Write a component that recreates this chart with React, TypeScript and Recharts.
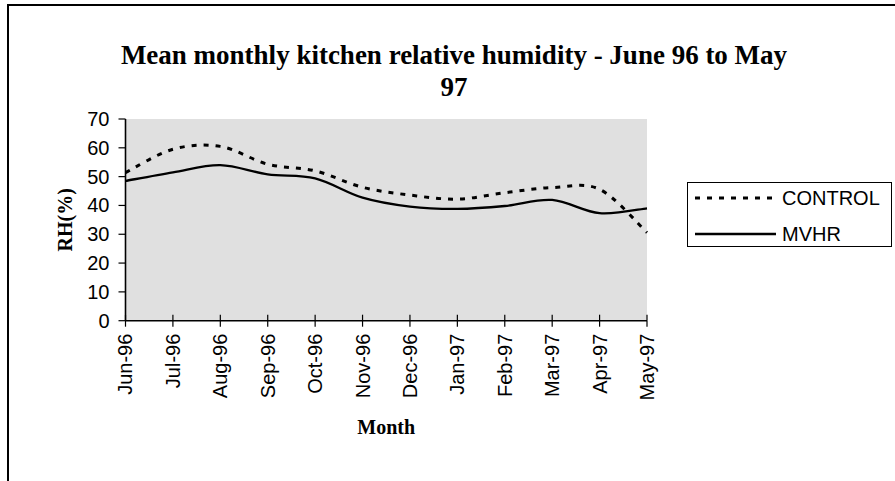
import React from 'react';
import { LineChart, Line, XAxis, YAxis, CartesianGrid } from 'recharts';

const months = ['Jun-96', 'Jul-96', 'Aug-96', 'Sep-96', 'Oct-96', 'Nov-96', 'Dec-96', 'Jan-97', 'Feb-97', 'Mar-97', 'Apr-97', 'May-97'];
const controlRH = [51.4, 59.5, 60.5, 54.3, 52.0, 46.3, 43.6, 42.2, 44.4, 46.2, 45.6, 30.6];
const mvhrRH = [48.5, 51.5, 54.0, 50.8, 49.4, 42.7, 39.6, 38.8, 39.8, 41.9, 37.3, 39.0];
const yTicks = [0, 10, 20, 30, 40, 50, 60, 70];
const titleLines = ['Mean monthly kitchen relative humidity - June 96 to May', '97'];
const xTitle = 'Month';
const yTitle = 'RH(%)';

const seriesDefs = [
  { key: 'CONTROL', values: controlRH, dash: '5 7', width: 3 },
  { key: 'MVHR', values: mvhrRH, dash: undefined as string | undefined, width: 2.3 },
];

const data = months.map((m, i) => {
  const row: any = { month: m };
  seriesDefs.forEach((s) => { row[s.key] = s.values[i]; });
  return row;
});

// Excel-style smoothing (Catmull-Rom as cubic Bezier)
function excelSmooth(context: any) {
  let pts: number[][] = [];
  let area = NaN;
  return {
    areaStart() { area = 0; },
    areaEnd() { area = NaN; },
    lineStart() { pts = []; },
    point(x: number, y: number) { pts.push([+x, +y]); },
    lineEnd() {
      const n = pts.length;
      if (!n) return;
      if (area === 0) context.lineTo(pts[0][0], pts[0][1]);
      else context.moveTo(pts[0][0], pts[0][1]);
      for (let i = 0; i < n - 1; i++) {
        const p0 = pts[Math.max(i - 1, 0)];
        const p1 = pts[i];
        const p2 = pts[i + 1];
        const p3 = pts[Math.min(i + 2, n - 1)];
        context.bezierCurveTo(
          p1[0] + (p2[0] - p0[0]) / 6,
          p1[1] + (p2[1] - p0[1]) / 6,
          p2[0] - (p3[0] - p1[0]) / 6,
          p2[1] - (p3[1] - p1[1]) / 6,
          p2[0],
          p2[1]
        );
      }
    },
  };
}

const SANS = '"Liberation Sans", Arial, sans-serif';
const SERIF = '"Liberation Serif", "Times New Roman", serif';

const X_TICK = 6;
const X_MARGIN = 7;
const Y_TICK = 7;
const Y_MARGIN = 9;

const XTick = (props: any) => {
  const { x, y, payload } = props;
  const axisY = y - X_TICK - X_MARGIN;
  return (
    <g>
      <line x1={x} x2={x} y1={axisY - 6} y2={axisY} stroke="#000" strokeWidth={1.2} />
      <text
        x={x}
        y={y}
        transform={`rotate(-90, ${x}, ${y})`}
        textAnchor="end"
        dominantBaseline="central"
        fontFamily={SANS}
        fontSize={20}
        fill="#000"
      >
        {payload.value}
      </text>
    </g>
  );
};

const YTick = (props: any) => {
  const { x, y, payload } = props;
  return (
    <text x={x} y={y} textAnchor="end" dominantBaseline="central" fontFamily={SANS} fontSize={20} fill="#000">
      {payload.value}
    </text>
  );
};

const YLabel = (props: any) => {
  const { viewBox } = props;
  const cx = viewBox.x + 10;
  const cy = viewBox.y + viewBox.height / 2;
  return (
    <text
      x={cx}
      y={cy}
      transform={`rotate(-90, ${cx}, ${cy})`}
      textAnchor="middle"
      dominantBaseline="central"
      fontFamily={SERIF}
      fontWeight="bold"
      fontSize={20}
      fill="#000"
    >
      {yTitle}
    </text>
  );
};

const XLabel = (props: any) => {
  const { viewBox } = props;
  const cx = viewBox.x + viewBox.width / 2;
  const cy = viewBox.y + viewBox.height + 9;
  return (
    <text x={cx} y={cy} textAnchor="middle" dominantBaseline="hanging" fontFamily={SERIF} fontWeight="bold" fontSize={20} fill="#000">
      {xTitle}
    </text>
  );
};

export default function App() {
  return (
    <div style={{ position: 'absolute', left: 0, top: 0, width: 895, height: 481, overflow: 'hidden', background: '#fff' }}>
      <div
        style={{
          position: 'absolute',
          left: 7,
          top: 4,
          right: -10,
          bottom: -10,
          borderTop: '2px solid #000',
          borderLeft: '2px solid #000',
        }}
      />
      <svg width={895} height={481} style={{ position: 'absolute', left: 0, top: 0 }}>
        {titleLines.map((t, i) => (
          <text
            key={i}
            x={454}
            y={64 + i * 32}
            textAnchor="middle"
            fontFamily={SERIF}
            fontWeight="bold"
            fontSize={27}
            fill="#000"
          >
            {t}
          </text>
        ))}
      </svg>
      <div style={{ position: 'absolute', left: 0, top: 0 }}>
        <LineChart width={895} height={481} data={data} margin={{ top: 119, right: 248, bottom: 70.3, left: 55.5 }}>
          <CartesianGrid horizontal={false} vertical={false} fill="#E0E0E0" />
          <XAxis
            xAxisId="top"
            orientation="top"
            dataKey="month"
            height={0}
            tick={false}
            tickLine={false}
            axisLine={{ stroke: '#808080', strokeWidth: 1.2 }}
            padding={{ left: 0, right: 0 }}
          />
          <YAxis
            yAxisId="right"
            orientation="right"
            width={0}
            domain={[0, 70]}
            ticks={yTicks}
            tick={false}
            tickLine={false}
            axisLine={{ stroke: '#808080', strokeWidth: 1.2 }}
          />
          <XAxis
            dataKey="month"
            height={90}
            interval={0}
            padding={{ left: 0, right: 0 }}
            tickSize={X_TICK}
            tickMargin={X_MARGIN}
            tick={<XTick />}
            tickLine={{ stroke: '#000', strokeWidth: 1.2 }}
            axisLine={{ stroke: '#000', strokeWidth: 1.6 }}
            label={<XLabel />}
          />
          <YAxis
            width={70}
            domain={[0, 70]}
            ticks={yTicks}
            interval={0}
            tickSize={Y_TICK}
            tickMargin={Y_MARGIN}
            tick={<YTick />}
            tickLine={{ stroke: '#000', strokeWidth: 1.2 }}
            axisLine={{ stroke: '#000', strokeWidth: 1.6 }}
            label={<YLabel />}
          />
          {seriesDefs.map((s) => (
            <Line
              key={s.key}
              dataKey={s.key}
              type={excelSmooth as any}
              stroke="#000"
              strokeWidth={s.width}
              strokeDasharray={s.dash}
              dot={false}
              activeDot={false}
              isAnimationActive={false}
            />
          ))}
        </LineChart>
      </div>
      <div
        style={{
          position: 'absolute',
          left: 687,
          top: 182,
          width: 203,
          height: 63,
          border: '1px solid #000',
          background: '#fff',
          boxSizing: 'content-box',
        }}
      >
        {seriesDefs.map((s, i) => (
          <div key={s.key} style={{ position: 'absolute', left: 0, top: 3 + i * 36, height: 24, width: 203 }}>
            <svg width={85} height={24} style={{ position: 'absolute', left: 7, top: 0 }}>
              <line x1={0} x2={81} y1={12} y2={12} stroke="#000" strokeWidth={s.width} strokeDasharray={s.dash} />
            </svg>
            <span
              style={{
                position: 'absolute',
                left: 94,
                top: 0,
                lineHeight: '24px',
                fontFamily: SANS,
                fontSize: 20,
                color: '#000',
                whiteSpace: 'nowrap',
              }}
            >
              {s.key}
            </span>
          </div>
        ))}
      </div>
    </div>
  );
}
